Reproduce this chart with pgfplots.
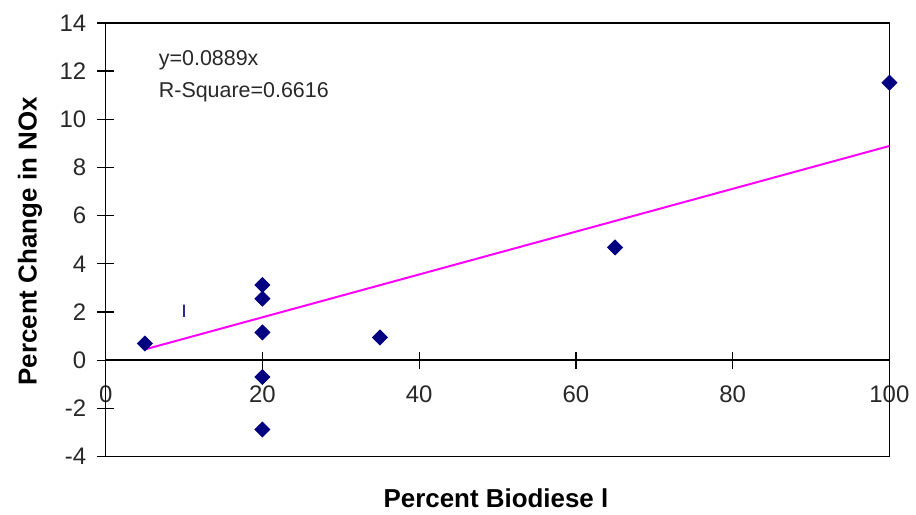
\documentclass[border=0pt]{standalone}
\usepackage{pgfplots}
\pgfplotsset{compat=1.18}
\usepackage{fontspec}
\setmainfont{Liberation Sans}
\definecolor{navy}{RGB}{0,0,128}
\definecolor{trend}{RGB}{255,0,255}
\definecolor{tickgray}{RGB}{40,40,40}

\begin{document}
\begin{tikzpicture}
\begin{axis}[
  scale only axis,
  width=393pt, height=217.4pt,
  xmin=0, xmax=100, ymin=-4, ymax=14,
  axis x line*=middle, axis y line*=left,
  hide obscured x ticks=false, hide obscured y ticks=false,
  xtick={0,20,40,60,80,100}, ytick={-4,-2,...,14},
  tick align=center, major tick length=8.5pt,
  tick style={black, line width=0.6pt},
  axis line style={black, line width=0.75pt},
  ticklabel style={font=\fontsize{12}{14}\selectfont, text=tickgray},
  xticklabel style={anchor=north, yshift=-5pt},
  yticklabel style={anchor=east, xshift=-2pt},
  /pgf/number format/assume math mode=true,
  clip=false,
]
\draw[black, line width=0.75pt] (rel axis cs:0,0) rectangle (rel axis cs:1,1);
% trend line y = 0.0889x
\addplot[trend, line width=1pt] coordinates {(5,0.4445)(100,8.89)};
% measurements
\addplot[only marks, mark=square*, mark size=2.65pt,
  mark options={rotate=45, fill=navy, draw=navy}] coordinates {
(5,0.69)(20,3.12)(20,2.55)(20,1.15)(20,-0.70)(20,-2.88)(35,0.94)(65,4.68)(100,11.52)
};
\node[anchor=center, text=navy, font=\fontsize{9}{10}\selectfont] at (axis cs:10,2.04) {I};
\node[anchor=base west, inner sep=0pt, font=\fontsize{10.75}{12}\selectfont, text=tickgray] at (axis cs:6.74,12.24) {y=0.0889x};
\node[anchor=base west, inner sep=0pt, font=\fontsize{10.75}{12}\selectfont, text=tickgray] at (axis cs:6.74,10.92) {R-Square=0.6616};
\node[rotate=90, font=\bfseries\fontsize{13}{15}\selectfont] at ([xshift=-38pt]rel axis cs:0,0.496) {Percent Change in NOx};
\node[font=\bfseries\fontsize{13}{15}\selectfont] at ([yshift=-21pt]rel axis cs:0.498,0) {Percent Biodiese l};
\coordinate (bl) at (rel axis cs:0,0);
\coordinate (tr) at (rel axis cs:1,1);
\end{axis}
\path ([shift={(-53pt,-28.15pt)}]bl) rectangle ([shift={(12pt,11.5pt)}]tr);
\end{tikzpicture}
\end{document}
